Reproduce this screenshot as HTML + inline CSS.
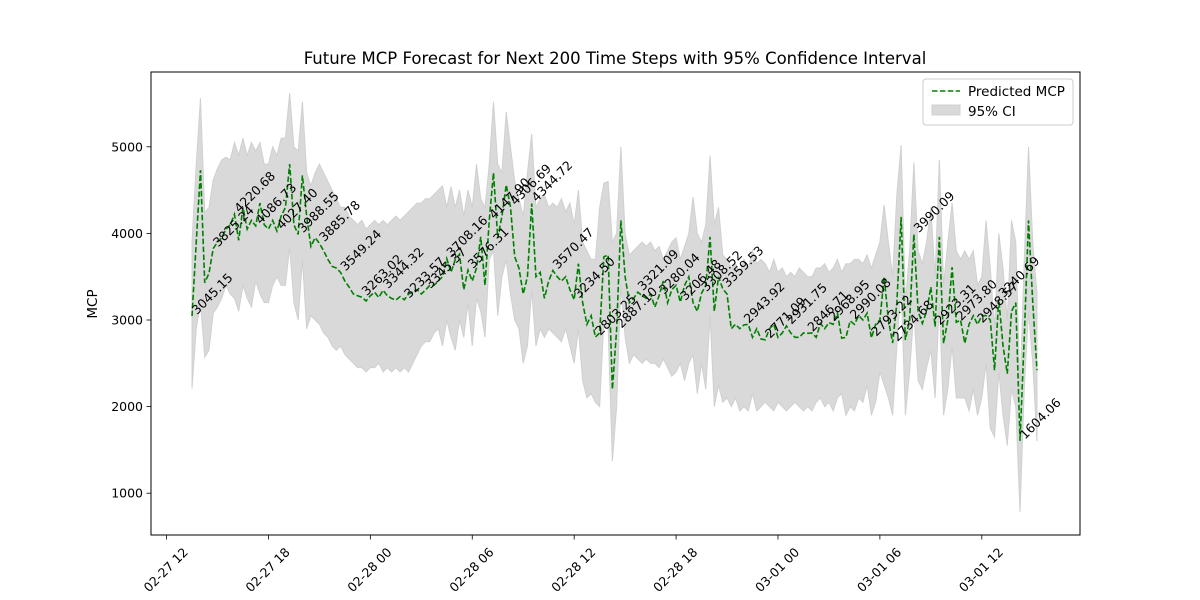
<!DOCTYPE html>
<html><head><meta charset="utf-8">
<style>
html,body{margin:0;padding:0;background:#fff;}
svg{display:block;font-family:"DejaVu Sans","Liberation Sans",sans-serif;}
</style></head>
<body>
<svg id="chart" width="1200" height="600" viewBox="0 0 1200 600" xmlns="http://www.w3.org/2000/svg">
<rect x="0" y="0" width="1200" height="600" fill="#fff"/>
<text x="615" y="64" font-size="16.5" text-anchor="middle" fill="#000">Future MCP Forecast for Next 200 Time Steps with 95% Confidence Interval</text>
<g id="plot"></g>
<rect x="151" y="72" width="929" height="463" fill="none" stroke="#000" stroke-width="1"/>
<text x="0" y="0" font-size="13.5" text-anchor="middle" transform="translate(97,304) rotate(-90)">MCP</text>
<g>
<rect x="923" y="79" width="150" height="46" rx="3" fill="#fff" fill-opacity="0.8" stroke="#ccc"/>
<line x1="932" y1="91" x2="960" y2="91" stroke="#008000" stroke-width="1.6" stroke-dasharray="5.5,2.4"/>
<text x="968" y="96" font-size="13.5">Predicted MCP</text>
<rect x="932" y="105" width="28" height="10" fill="#d9d9d9" stroke="#d0d0d0"/>
<text x="968" y="116" font-size="13.5">95% CI</text>
</g>
</svg>
<script>
const pred = [3045.15,3900,4730,3430,3540,3825.24,3900,3950,4050,4100,
4220.68,3920,4300,4050,4150,4086.73,4350,4100,4050,4150,
4027.40,4200,4300,4800,4100,3988.55,4670,4200,3850,3950,
3885.78,3800,3700,3620,3600,3549.24,3450,3380,3300,3280,
3263.02,3220,3280,3320,3260,3344.32,3280,3250,3230,3270,
3233.57,3300,3320,3350,3300,3345.37,3400,3400,3450,3500,
3708.16,3550,3700,3760,3350,3576.31,3450,3600,3960,3400,
4147.90,4700,3950,4200,4560,4306.69,3730,3600,3300,3500,
4344.72,3500,3550,3250,3450,3570.47,3500,3450,3500,3350,
3234.50,3650,3200,2950,3050,2803.25,2850,3730,3750,2200,
2887.10,4150,3500,3200,3250,3321.09,3280,3250,3300,3150,
3280.04,3450,3200,3350,3400,3206.48,3400,3500,3200,3100,
3308.52,3400,3960,3100,3500,3359.53,3300,2900,2950,2900,
2943.92,2950,2800,2900,2780,2771.09,2900,2950,2800,2850,
2931.75,2850,2800,2800,2850,2846.71,2850,2800,2960,2900,
2968.95,2950,3080,2790,2800,2990.08,2950,3050,3000,3080,
2793.22,2950,3000,3500,3000,2734.68,3200,4190,2770,3000,
3990.09,3100,2960,3100,3380,2923.31,3960,2730,3000,3610,
2973.80,3000,2730,2950,3050,2948.57,3050,3050,3000,2420,
3240.69,2700,2380,3100,3200,1604.06,2800,4150,3200,2420];
const upper = [3900,4800,5560,4240,4300,4620,4750,4850,4880,4850,
5050,4900,5100,4900,5050,4950,5050,4800,4800,5000,
4900,5100,5100,5620,5000,4950,5520,4700,4550,4700,
4800,4700,4600,4500,4400,4300,4300,4200,4150,4100,
4150,4050,4100,4150,4100,4150,4100,4150,4200,4150,
4200,4250,4300,4350,4350,4400,4400,4450,4500,4550,
4300,4540,4300,4500,4200,4500,4300,4800,4400,4300,
4800,5520,4800,4700,5400,5000,4600,4400,4200,4700,
5150,4300,4400,4450,4300,4350,4300,4400,4250,4350,
4100,4500,3900,3800,3700,3700,4300,4580,4600,3900,
4000,5000,4000,3750,3800,3850,3900,3850,3900,3800,
3850,3700,3800,3900,3950,3700,3850,4000,4420,4000,
3900,4100,4900,4100,4300,3750,3700,3600,3650,3550,
3700,3600,3800,3650,3700,3650,3550,3700,3550,3600,
3500,3550,3500,3600,3550,3500,3500,3600,3600,3650,
3550,3600,3700,3550,3650,3650,3700,3700,3650,3750,
3600,3750,3900,4330,3900,3500,4450,5020,3200,3800,
4820,3800,3650,3900,4300,3500,4850,3400,3900,4350,
3800,3700,3800,3700,3800,3400,3500,4150,3600,2900,
4000,3600,3000,4150,3900,2200,3700,5000,3900,3300];
const lower = [2210,2900,3200,2570,2650,3080,3150,3250,3400,3300,
3250,3100,3400,3250,3150,3450,3300,3200,3200,3400,
3500,3400,3400,3840,3200,3000,3700,2900,3050,3000,
2950,2850,2800,2700,2650,2700,2600,2550,2500,2450,
2450,2400,2450,2450,2500,2400,2450,2400,2450,2400,
2450,2400,2500,2600,2700,2750,2750,2850,2900,2700,
3000,2800,2650,3000,2800,3200,2700,3250,3100,2800,
3700,3800,3050,3500,3700,3300,3000,2900,2500,2700,
3350,2700,2900,2800,2900,2850,2800,2750,2900,2700,
2500,2900,2300,2100,2150,2050,2000,3000,2900,1370,
2000,3400,2800,2500,2600,2550,2500,2550,2500,2500,
2450,2550,2450,2350,2400,2500,2300,2500,2600,2150,
2500,2200,3050,2000,2250,2050,2100,2000,2100,1950,
2000,1950,2150,1950,2000,2050,2000,1950,2050,2000,
1950,2000,2050,2000,1950,2000,1950,2050,2100,2000,
2050,1950,2100,2150,1900,2000,1950,2100,2050,2250,
1900,2050,2400,2250,2100,1900,2700,3400,1900,2400,
3100,2300,2200,2450,2650,2100,3200,1900,2200,2700,
2100,2100,2100,1950,2200,1900,2100,2500,1750,1650,
2400,1900,1550,2200,2000,780,2200,3100,2500,1600];
const yTicks = [1000,2000,3000,4000,5000];
const xTickLabels = ["02-27 12","02-27 18","02-28 00","02-28 06","02-28 12","02-28 18","03-01 00","03-01 06","03-01 12"];
const stepsPerTick = 24;
const firstTickOffset = -6;
const labelEvery = 5;

const NS = "http://www.w3.org/2000/svg";
const xScale = i => 192 + i * (845 / 199);
const yScale = v => 320 - (v - 3000) * 0.0866;
const g = document.getElementById('plot');
function mk(tag, attrs){ const e=document.createElementNS(NS,tag); for(const k in attrs) e.setAttribute(k,attrs[k]); return e; }

let d = '';
upper.forEach((v,i)=>{ d += (i?'L':'M') + xScale(i).toFixed(2) + ',' + yScale(v).toFixed(2); });
for(let i=lower.length-1;i>=0;i--){ d += 'L' + xScale(i).toFixed(2) + ',' + yScale(lower[i]).toFixed(2); }
d += 'Z';
const band = mk('path',{d:d, fill:'#d9d9d9', stroke:'#d0d0d0', 'stroke-width':'1'});


g.appendChild(band);

let pd = '';
pred.forEach((v,i)=>{ pd += (i?'L':'M') + xScale(i).toFixed(2) + ',' + yScale(v).toFixed(2); });
const line = mk('path',{d:pd, fill:'none', stroke:'#008000', 'stroke-width':'1.6', 'stroke-dasharray':'5.55,2.4'});


g.appendChild(line);

pred.forEach((v,i)=>{
  if(i % labelEvery !== 0) return;
  const x = xScale(i) + 5, y = yScale(v) - 1;
  const t = mk('text',{x:0,y:0,'font-size':'12.5',fill:'#000',transform:`translate(${x.toFixed(2)},${y.toFixed(2)}) rotate(-45)`});
  t.textContent = v.toFixed(2);
  
  
  g.appendChild(t);
});

yTicks.forEach(v=>{
  const y = yScale(v);
  const tk = mk('line',{x1:146.5,x2:151,y1:y,y2:y,stroke:'#000','stroke-width':'0.8'});
  
  
  g.appendChild(tk);
  const t = mk('text',{x:143,y:y+4.5,'font-size':'12.5','text-anchor':'end',fill:'#000'});
  t.textContent = String(v);
  
  
  g.appendChild(t);
});

xTickLabels.forEach((lab,k)=>{
  const x = xScale(firstTickOffset + k*stepsPerTick);
  const tk = mk('line',{x1:x,x2:x,y1:535,y2:539.5,stroke:'#000','stroke-width':'0.8'});
  
  
  g.appendChild(tk);
  const t = mk('text',{x:0,y:0,'font-size':'12.5','text-anchor':'middle',fill:'#000',transform:`translate(${(x-0.5).toFixed(2)},570) rotate(-45) translate(0,4)`});
  t.textContent = lab;
  
  
  g.appendChild(t);
});
</script>
</body></html>
